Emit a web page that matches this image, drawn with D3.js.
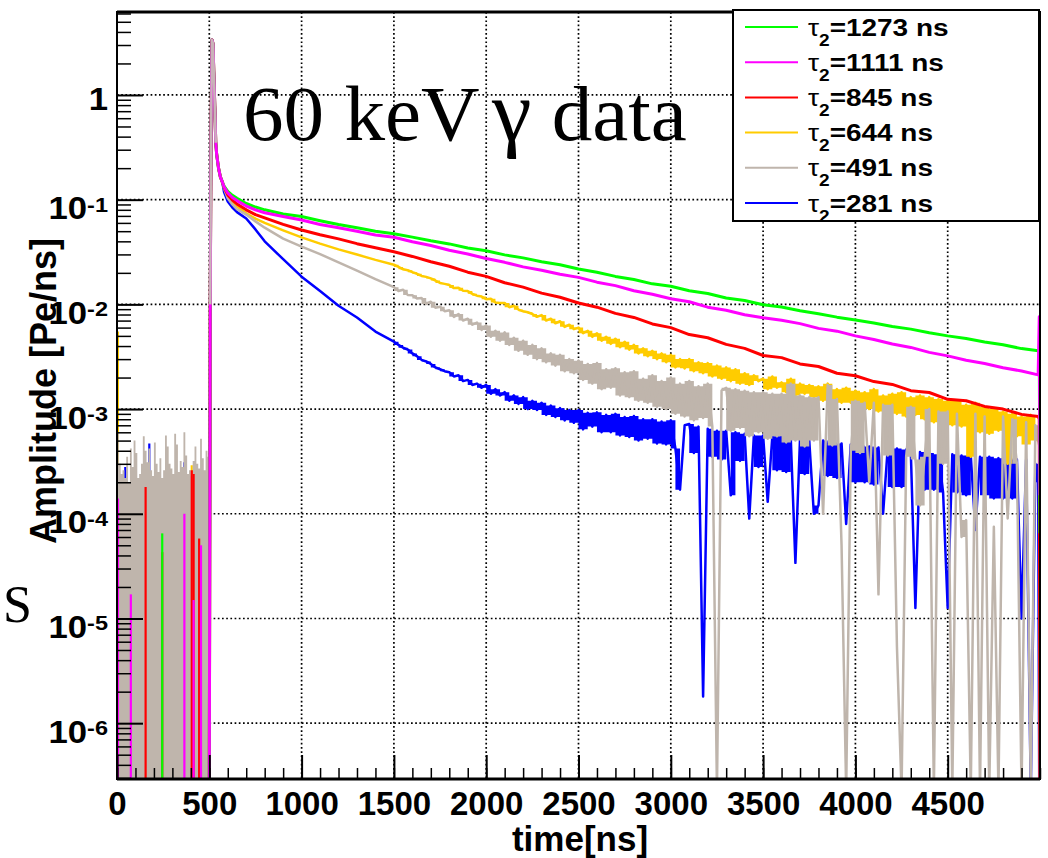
<!DOCTYPE html>
<html>
<head>
<meta charset="utf-8">
<script src="https://cdn.jsdelivr.net/npm/d3@7/dist/d3.min.js"></script>
<style>
  body { margin: 0; background: #fff; }
  svg text { font-family: "Liberation Sans", Arial, sans-serif; font-weight: bold; fill: #000; }
</style>
</head>
<body>
<script>
// amplitudes are in 1e-3 Pe/ns, times in ns
var legendTau = [1273, 1111, 845, 644, 491, 281],
    seriesColors = ["#00ff00", "#ff00ff", "#ff0000", "#ffcc00", "#bfb5ac", "#0000ff"],
    drawOrder = [5, 3, 4, 2, 0, 1];

var timeRange = [0, 5000],
    ampRange = [2.93e-7, 6.2],
    xMajor = [0, 500, 1000, 1500, 2000, 2500, 3000, 3500, 4000, 4500],
    yDecades = [1e-6, 1e-5, 1e-4, 1e-3, 1e-2, 1e-1, 1];

// pulse rise, shared by all six
var headTime = [500, 505, 510, 515, 520, 525, 530, 535, 540, 550, 560, 570];
var headAmp = [0, 10, 600, 3350, 3100, 1500, 750, 350, 270, 200, 165, 148];

var earlyTime = [580, 600, 625, 650, 700, 750, 800, 900, 1000, 1100, 1200, 1300, 1400];
var greenEarly   = [135, 120, 110, 103, 92, 85, 80, 73, 69, 63, 58, 54, 50];
var magentaEarly = [133, 116, 105, 98, 87, 80, 75, 69, 64, 58, 54, 50, 46];
var redEarly     = [131, 111, 99, 91, 80, 72, 67, 58, 51.3, 46.2, 42.2, 38, 34.7];
var yellowEarly  = [130, 107, 95, 86, 74, 66, 60, 51, 43.7, 38, 33.5, 29.9, 26.6];
var grayEarly    = [128, 103, 90, 81, 72, 62, 54, 42.5, 35.6, 30.2, 25.2, 21.0, 17.4];
var blueEarly    = [118, 96, 84, 76, 66, 52, 40, 27, 18.4, 13.4, 9.7, 7.5, 5.5];

// smooth tails, every 100 ns from 1500 to 4900
var greenTail = [47.3, 43.9, 40.5, 37.8, 34.6, 32.5, 29.7, 27.8, 25.5, 23.9, 21.8, 20.3, 18.5, 17.3, 15.7, 14.9, 13.5, 12.7,
  11.5, 10.9, 9.9, 9.45, 8.7, 8.15, 7.55, 7.1, 6.65, 6.15, 5.8, 5.35, 5.0, 4.72, 4.38, 4.12, 3.78];
var magentaTail = [43.7, 39.6, 36.5, 32.9, 30.3, 27.4, 25.2, 22.8, 21.2, 19.4, 18.1, 16.3, 15.1, 13.5, 12.5, 11.3, 10.6, 9.4,
  8.8, 7.95, 7.45, 7.05, 6.55, 5.9, 5.55, 5.0, 4.62, 4.18, 3.88, 3.48, 3.22, 2.93, 2.72, 2.48, 2.31];
var redTail = [31.8, 28.7, 25.5, 23.1, 20.3, 18.5, 16.1, 14.6, 12.8, 11.7, 10.3, 9.4, 8.2, 7.5, 6.5, 6.0, 5.15, 4.8,
  4.15, 3.8, 3.25, 3.1, 2.7, 2.55, 2.2, 2.08, 1.83, 1.72, 1.5, 1.44, 1.24, 1.2, 1.06, 1.0, 0.89];

// noisy tails, 25 ns bins from 1500 to 4975 (0 = empty bin)
var yellowTail = [
  23.9, 22.8, 21.6, 21.2, 20.3, 19.6, 18.7, 18.3, 17.7, 16.9, 16.0, 15.7, 15.3, 14.3, 14.4, 13.5, 13.4, 12.6, 12.1, 11.9,
  11.2, 11.3, 10.4, 10.3, 10.3, 9.4, 9.7, 8.9, 8.6, 8.4, 8.1, 7.6, 7.9, 7.0, 7.3, 6.6, 6.9, 6.1, 6.4, 5.8,
  6.0, 5.3, 5.6, 4.9, 5.3, 4.5, 4.9, 4.2, 4.7, 3.9, 4.4, 3.7, 4.1, 3.4, 3.8, 3.2, 3.6, 3.0, 3.4, 2.8,
  3.3, 2.5, 3.0, 2.45, 3.0, 2.3, 2.8, 2.2, 2.75, 2.05, 2.6, 1.95, 2.5, 1.85, 2.4, 1.75, 2.2, 1.7, 2.1, 1.85,
  1.95, 1.55, 2.05, 1.6, 1.8, 1.45, 1.95, 1.35, 1.75, 1.4, 1.7, 1.3, 1.65, 1.2, 1.75, 1.25, 1.55, 1.15, 1.6, 1.15,
  1.5, 1.05, 1.45, 1.0, 1.55, 0.95, 1.35, 1.05, 1.4, 0.9, 1.45, 0.85, 1.3, 0.88, 1.35, 0.8, 1.3, 0.75, 1.25, 0.82,
  1.2, 0.7, 1.2, 0.68, 1.1, 0.35, 1.15, 0.6, 1.05, 0.58, 1.0, 0.62, 0.95, 0.3, 0.9, 0.55, 0.85, 0.46, 0.88, 0.5];
var grayTail = [
  14.6, 13.4, 13.8, 12.3, 12.2, 11.4, 11.5, 10.1, 10.6, 9.3, 9.5, 8.6, 8.8, 7.6, 8.1, 7.0, 7.3, 6.4, 6.7, 5.7,
  6.3, 4.9, 5.6, 4.5, 5.4, 4.1, 4.8, 3.6, 4.5, 3.3, 4.1, 3.0, 3.8, 2.8, 3.4, 2.6, 3.3, 2.3, 3.0, 2.2,
  2.9, 1.9, 2.7, 1.75, 2.75, 1.55, 2.4, 1.6, 2.45, 1.35, 2.25, 1.3, 2.3, 1.2, 1.95, 1.15, 2.1, 1.05, 1.85, 1.0,
  2.0, 0.9, 1.75, 0.85, 1.85, 0.78, 1.65, 0.82, 1.75, 0.68, 0, 1.5, 1.6, 0.62, 1.55, 0.66, 1.5, 0.55, 1.45, 0.6,
  1.45, 0.52, 1.4, 0.55, 1.4, 0.48, 1.75, 0.5, 1.35, 0.44, 1.3, 0.5, 1.3, 0.1, 1.7, 0.45, 1.25, 0.05, 0, 0.4,
  1.2, 0.38, 1.15, 0.2, 1.15, 0.017, 1.1, 0.36, 1.1, 0.0054, 0, 0.35, 1.05, 0.33, 0.12, 0.35, 1.0, 0, 0.95, 0.3,
  0.95, 0, 0.9, 0.06, 0.087, 0, 0.9, 0, 0.85, 0, 0.075, 0, 0.85, 0.09, 0.8, 0.3, 0, 0.75, 0, 0.7];
var blueTail = [
  4.4, 4.1, 3.85, 3.7, 3.4, 3.2, 2.95, 2.85, 2.7, 2.5, 2.4, 2.3, 2.25, 2.05, 2.1, 1.85, 1.9, 1.7, 1.75, 1.6,
  1.7, 1.4, 1.55, 1.35, 1.45, 1.2, 1.35, 1.12, 1.3, 1.0, 1.2, 0.98, 1.15, 0.88, 1.08, 0.84, 1.02, 0.78, 0.98, 0.74,
  0.98, 0.64, 0.92, 0.68, 0.93, 0.6, 0.88, 0.6, 0.9, 0.56, 0.84, 0.54, 0.86, 0.5, 0.8, 0.52, 0.8, 0.47, 0.76, 0.46,
  0.78, 0.42, 0.17, 0.7, 0.72, 0.38, 0.68, 0.0018, 0.65, 0.35, 0.62, 0.33, 0.62, 0.15, 0.6, 0.32, 0.58, 0.09, 0.56, 0.28,
  0.56, 0.13, 0.55, 0.26, 0.55, 0.25, 0.52, 0.034, 0.52, 0.24, 0.5, 0.1, 0.12, 0.5, 0.23, 0.48, 0.22, 0.47, 0.08, 0.46,
  0.2, 0.45, 0.2, 0.44, 0.19, 0.43, 0.1, 0.42, 0.18, 0.42, 0.18, 0.41, 0.4, 0.0126, 0.39, 0.17, 0.38, 0.17, 0.37, 0.16,
  0.0126, 0.37, 0.16, 0.36, 0.15, 0.36, 0.07, 0.35, 0.15, 0.35, 0.14, 0.34, 0.14, 0.34, 0.14, 0.33, 0.01, 0.33, 0, 0.3];

// last bins at the right edge
var edgeTime = [4990, 4996, 5000];
var greenEdge = [3.6, 3.5, 0.065],
    magentaEdge = [2.12, 7.6, 0.15],
    redEdge = [0.85, 0.8, 0],
    yellowEdge = [0.6, 0.5, 0],
    grayEdge = [0.5, 0.45, 0],
    blueEdge = [0.2, 0, 0];

// pre-trigger: 491 ns is dense (10 ns bins), the others only single bins
var grayPre = [0.60, 0.30, 0.24, 0.26, 0.22, 0.35, 0.20, 0.42, 0.28, 0.50, 0.38, 0.22, 0.24, 0.30, 0.55, 0.40, 0.31, 0.42,
  0.26, 0.23, 0.48, 0.30, 0.25, 0.34, 0.22, 0.26, 0.56, 0.44, 0.30, 0.27, 0.24, 0.58, 0.46, 0.25, 0.32, 0.28, 0.60, 0.36,
  0.24, 0.26, 0.23, 0.32, 0.44, 0.30, 0.27, 0.52, 0.34, 0.26, 0.40, 0.35];
var greenPre = [[0, 0.023], [240, 0.065]],
    magentaPre = [[0, 0.14], [70, 0.017], [360, 0.10], [410, 0.015], [450, 0.05]],
    redPre = [[150, 0.18], [240, 0.043], [400, 0.26], [410, 0.24], [440, 0.058]],
    yellowPre = [[0, 5.5], [140, 0.21], [400, 0.29]],
    bluePre = [[40, 0.28], [90, 0.22], [170, 0.47], [360, 0.31], [420, 0.27]];

var coarseTime = d3.range(1500, 4901, 100),
    fineTime = d3.range(1500, 4976, 25),
    preTime = d3.range(0, 500, 10);

var series = [
  {early: greenEarly, tailTime: coarseTime, tail: greenTail, edge: greenEdge, pre: greenPre},
  {early: magentaEarly, tailTime: coarseTime, tail: magentaTail, edge: magentaEdge, pre: magentaPre},
  {early: redEarly, tailTime: coarseTime, tail: redTail, edge: redEdge, pre: redPre},
  {early: yellowEarly, tailTime: fineTime, tail: yellowTail, edge: yellowEdge, pre: yellowPre, binned: true},
  {early: grayEarly, tailTime: fineTime, tail: grayTail, edge: grayEdge, pre: [], binned: true},
  {early: blueEarly, tailTime: fineTime, tail: blueTail, edge: blueEdge, pre: bluePre, binned: true}
];

var width = 1048, height = 858,
    plotL = 117, plotR = 1040, plotT = 12, plotB = 779;

var x = d3.scaleLinear().domain(timeRange).range([plotL, plotR]);
var y = d3.scaleLog().domain(ampRange).range([plotB, plotT]);

function yv(v) { return v > 0 ? y(v * 1e-3) : plotB + 12; }

function zip(ts, vs) { return ts.map(function(t, i) { return [t, vs[i]]; }); }

var svg = d3.select("body").append("svg")
    .attr("width", width)
    .attr("height", height);

svg.append("defs").append("clipPath").attr("id", "plot")
  .append("rect").attr("x", plotL).attr("y", plotT).attr("width", plotR - plotL).attr("height", plotB - plotT);

// dotted grid
var grid = svg.append("g")
    .attr("stroke", "#000").attr("stroke-width", 1.7).attr("stroke-dasharray", "1.7,2.5");
grid.selectAll(".gx").data(xMajor.slice(1)).enter().append("line")
    .attr("x1", function(d) { return x(d); }).attr("x2", function(d) { return x(d); })
    .attr("y1", plotT).attr("y2", plotB);
grid.selectAll(".gy").data(yDecades).enter().append("line")
    .attr("y1", function(d) { return y(d); }).attr("y2", function(d) { return y(d); })
    .attr("x1", plotL).attr("x2", plotR);

var plot = svg.append("g").attr("clip-path", "url(#plot)");

var line = d3.line()
    .x(function(d) { return x(d[0]); })
    .y(function(d) { return yv(d[1]); });
// filled span between neighbouring bins, so fine noise reads as a band
var band = d3.area()
    .curve(d3.curveStepAfter)
    .x(function(d) { return x(d[0]); })
    .y0(function(d) { return yv(d[1]); })
    .y1(function(d) { return yv(d[2]); });
var preArea = d3.area()
    .curve(d3.curveStepAfter)
    .x(function(d) { return x(d[0]); })
    .y0(plotB)
    .y1(function(d) { return yv(d[1]); });

function stroke(path, col, w) {
  return path.attr("fill", "none")
      .attr("stroke", col)
      .attr("stroke-width", w || 3)
      .attr("stroke-linejoin", "round");
}

// deep single-bin dips stay thin lines, only ordinary scatter is filled
function bandData(pts) {
  var out = pts.slice(0, -1).map(function(p, i) {
    var q = pts[i + 1],
        lo = Math.min(p[1], q[1]), hi = Math.max(p[1], q[1]);
    if (lo < hi * 0.25) lo = hi;
    return [p[0], lo, hi];
  });
  var last = out[out.length - 1];
  out.push([pts[pts.length - 1][0], last[1], last[2]]);
  return out;
}

drawOrder.forEach(function(k) {
  var s = series[k], col = seriesColors[k];

  if (k === 4) {
    plot.append("path")
        .attr("d", preArea(zip(preTime, grayPre).concat([[500, 0]])))
        .attr("fill", col);
  }
  s.pre.forEach(function(d) {
    plot.append("line")
        .attr("x1", x(d[0] + 5)).attr("x2", x(d[0] + 5))
        .attr("y1", plotB).attr("y2", yv(d[1]))
        .attr("stroke", col).attr("stroke-width", 2.2);
  });

  var smooth = zip(headTime, headAmp).concat(zip(earlyTime, s.early)),
      tail = zip(s.tailTime, s.tail).concat(zip(edgeTime, s.edge));

  if (s.binned) {
    plot.append("path").attr("d", band(bandData(tail))).attr("fill", col);
    stroke(plot.append("path").attr("d", line(smooth.concat(tail))), col, 2.5);
  } else {
    stroke(plot.append("path").attr("d", line(smooth.concat(tail))), col);
  }
});

// the common spike looks grey where all six overlap
stroke(plot.append("path").attr("d", line(zip(headTime, headAmp).slice(1, 8))), "#c9b3b8", 2.5);

// ticks, pointing into the frame
svg.append("g").attr("transform", "translate(0," + plotB + ")")
    .call(d3.axisBottom(x).tickValues(d3.range(0, 5001, 100)).tickSize(-11).tickFormat(""))
    .call(function(g) { g.select(".domain").remove(); g.selectAll("line").attr("stroke-width", 1.5); });
svg.append("g").attr("transform", "translate(0," + plotB + ")")
    .call(d3.axisBottom(x).tickValues(xMajor).tickSize(-24).tickPadding(13).tickFormat(d3.format("d")))
    .call(function(g) {
      g.select(".domain").remove();
      g.selectAll("line").attr("stroke-width", 2);
      g.selectAll("text").style("font-size", "33px").attr("fill", "#000");
    });

var yMinor = [];
d3.range(-7, 1).forEach(function(e) {
  d3.range(2, 10).forEach(function(m) {
    var v = m * Math.pow(10, e);
    if (v > ampRange[0] && v < ampRange[1]) yMinor.push(v);
  });
});
svg.append("g").attr("transform", "translate(" + plotL + ",0)")
    .call(d3.axisLeft(y).tickValues(yMinor).tickSize(-14).tickFormat(""))
    .call(function(g) { g.select(".domain").remove(); g.selectAll("line").attr("stroke-width", 1.5); });
svg.append("g").attr("transform", "translate(" + plotL + ",0)")
    .call(d3.axisLeft(y).tickValues(yDecades).tickSize(-26).tickFormat(""))
    .call(function(g) { g.select(".domain").remove(); g.selectAll("line").attr("stroke-width", 2); });

// y labels as 10^n
yDecades.forEach(function(d) {
  var e = Math.round(Math.log10(d)), yy = y(d);
  var t = svg.append("text")
      .attr("text-anchor", "end")
      .style("font-size", "31px");
  if (e === 0) {
    t.attr("transform", "translate(108," + (yy + 15) + ") scale(1.12,1)").text("1");
  } else {
    t.attr("transform", "translate(108," + (yy + 19.5) + ") scale(1.12,1)");
    t.append("tspan").text("10");
    t.append("tspan").attr("dy", -7.5).style("font-size", "21px").text(String(e));
  }
});

// frame
svg.append("rect")
    .attr("x", plotL).attr("y", plotT).attr("width", plotR - plotL).attr("height", plotB - plotT)
    .attr("fill", "none").attr("stroke", "#000").attr("stroke-width", 2);
svg.append("line").attr("x1", plotL).attr("x2", plotR).attr("y1", plotT).attr("y2", plotT)
    .attr("stroke", "#000").attr("stroke-width", 3);
svg.append("line").attr("x1", plotL).attr("x2", plotR).attr("y1", plotB).attr("y2", plotB)
    .attr("stroke", "#000").attr("stroke-width", 3);

// axis titles
svg.append("text")
    .attr("transform", "translate(56,391) rotate(-90)")
    .attr("text-anchor", "middle")
    .style("font-size", "36px")
    .text("Amplitude [Pe/ns]");
svg.append("text")
    .attr("x", 580).attr("y", 851)
    .attr("text-anchor", "middle")
    .style("font-size", "35px")
    .text("time[ns]");

// legend
var legend = svg.append("g");
legend.append("rect")
    .attr("x", 733).attr("y", 10).attr("width", 306).attr("height", 211)
    .attr("fill", "#fff").attr("stroke", "#000").attr("stroke-width", 2);
legendTau.forEach(function(tau, i) {
  var cy = 27 + i * 35.2;
  legend.append("line")
      .attr("x1", 745).attr("x2", 798).attr("y1", cy).attr("y2", cy)
      .attr("stroke", seriesColors[i]).attr("stroke-width", 2);
  var t = legend.append("text")
      .attr("transform", "translate(808," + (cy + 8.5) + ") scale(1.19,1)")
      .style("font-size", "23.5px");
  t.append("tspan").style("font-weight", "normal").text("\u03c4");
  t.append("tspan").attr("dy", 10).style("font-size", "16px").text("2");
  t.append("tspan").attr("dy", -10).text("=" + tau + " ns");
});

// annotation
var note = svg.append("text")
    .attr("transform", "translate(243,140) scale(1.04,1)")
    .style("font-family", "'Liberation Serif', serif")
    .style("font-weight", "normal")
    .style("font-size", "78px");
note.append("tspan").text("60 keV");
note.append("tspan").attr("dx", 12).style("font-size", "86px").text("\u03b3");
note.append("tspan").text(" data");

svg.append("text")
    .attr("x", 3).attr("y", 622)
    .style("font-family", "'Liberation Serif', serif")
    .style("font-weight", "normal")
    .style("font-size", "52px")
    .text("S");
</script>
</body>
</html>
